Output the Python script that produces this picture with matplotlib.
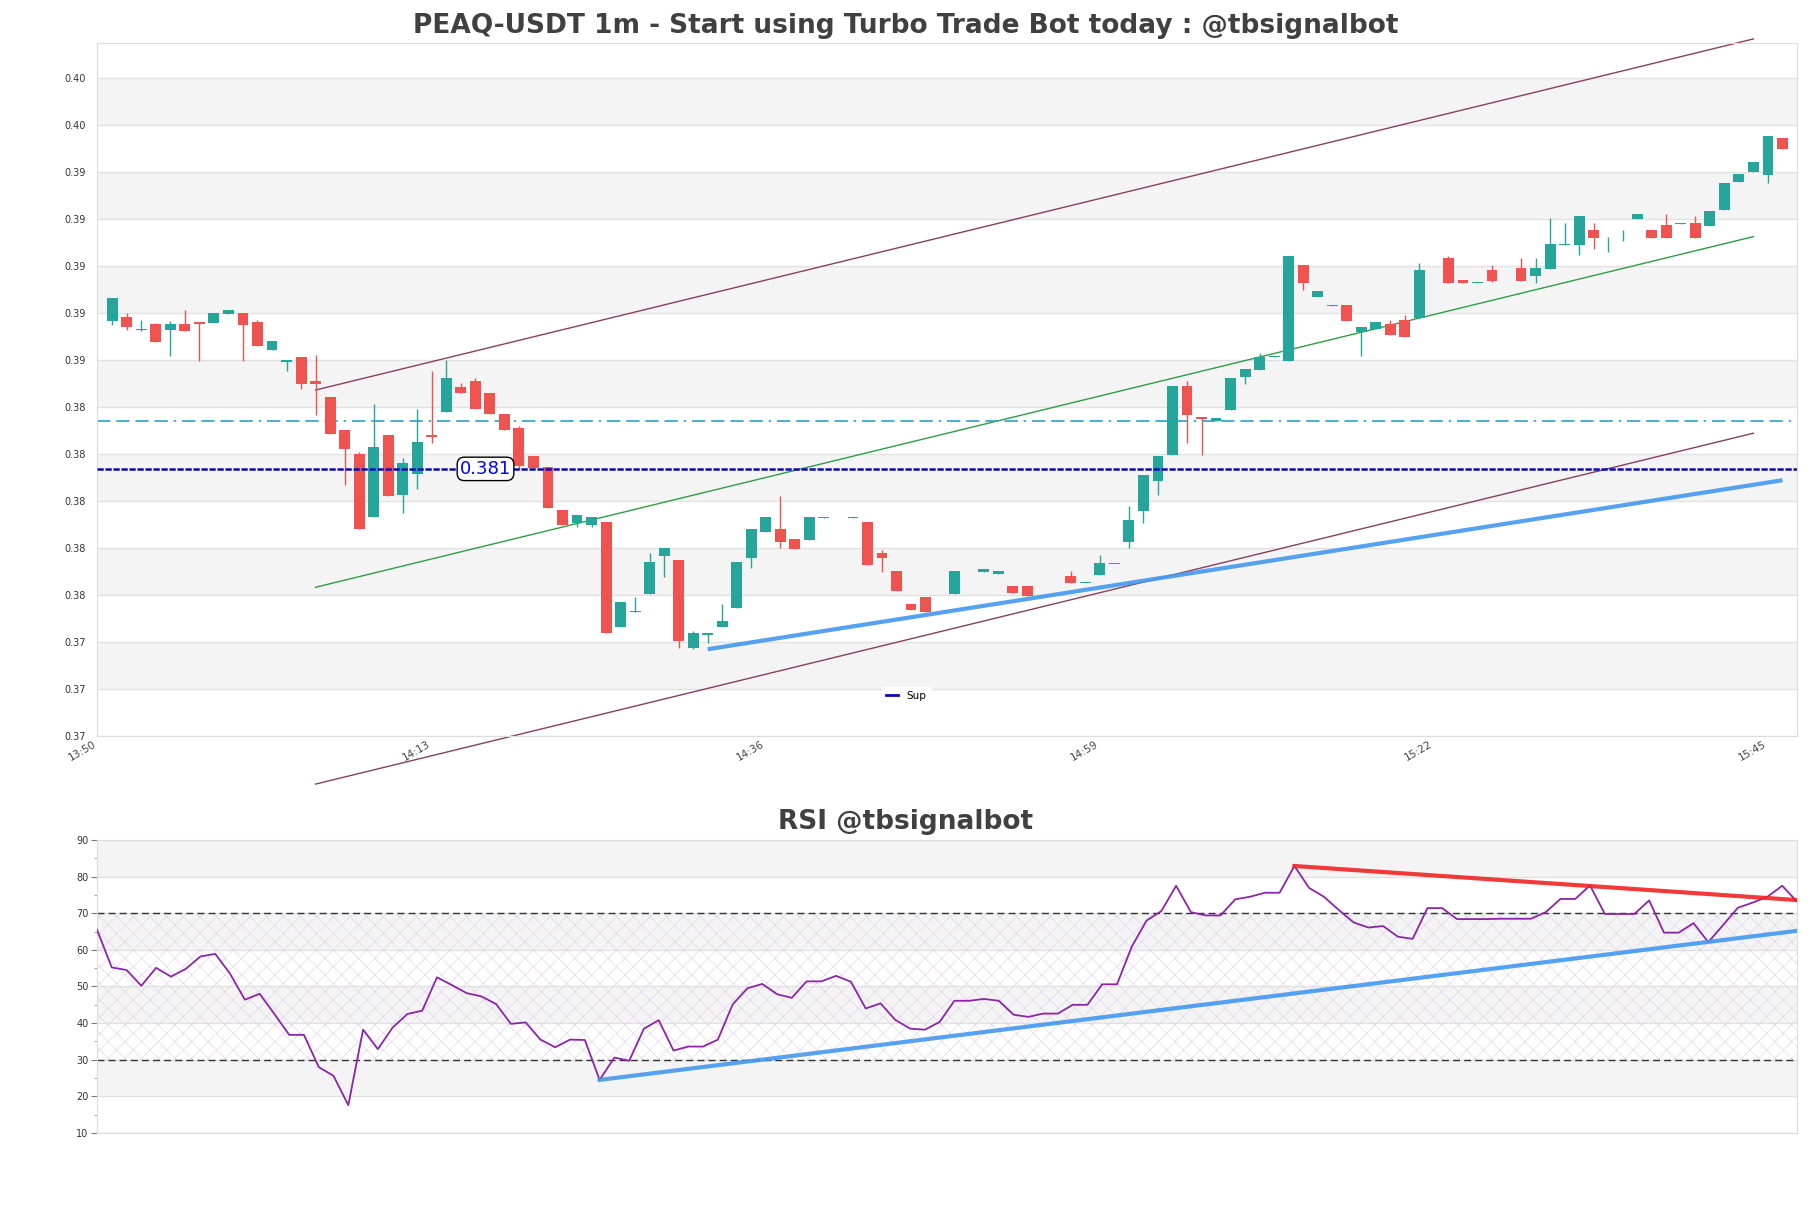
import numpy as np
import pandas as pd
import matplotlib
matplotlib.use("Agg")
import matplotlib.pyplot as plt
from matplotlib.lines import Line2D

# candles, one per minute from 13:51
start = pd.Timestamp("2024-01-01 13:50")
opens = [0.38794, 0.38811, 0.38751, 0.38779, 0.38751, 0.38779, 0.38788, 0.38785, 0.38827, 0.38830,
         0.38788, 0.38654, 0.38599, 0.38624, 0.38510, 0.38435, 0.38281, 0.38170, 0.37874, 0.38258,
         0.37980, 0.38078, 0.38259, 0.38368, 0.38481, 0.38512, 0.38454, 0.38358, 0.38291, 0.38160,
         0.38111, 0.37908, 0.37845, 0.37839, 0.37852, 0.37362, 0.37432, 0.37516, 0.37694, 0.37674,
         0.37263, 0.37321, 0.37362, 0.37451, 0.37685, 0.37806, 0.37819, 0.37772, 0.37769, 0.37872,
         0.37924, 0.37872, 0.37852, 0.37707, 0.37622, 0.37468, 0.37501, 0.37475, 0.37516, 0.37620,
         0.37619, 0.37607, 0.37552, 0.37552, 0.37517, 0.37517, 0.37599, 0.37566, 0.37603, 0.37654,
         0.37760, 0.37905, 0.38045, 0.38167, 0.38488, 0.38345, 0.38323, 0.38377, 0.38532, 0.38564,
         0.38624, 0.38607, 0.39054, 0.38906, 0.38863, 0.38866, 0.38741, 0.38753, 0.38777, 0.38797,
         0.38805, 0.39029, 0.39089, 0.38984, 0.38972, 0.39031, 0.38982, 0.39040, 0.39004, 0.39037,
         0.39150, 0.39149, 0.39218, 0.39183, 0.39183, 0.39271, 0.39218, 0.39241, 0.39248, 0.39249,
         0.39238, 0.39313, 0.39444, 0.39491, 0.39477, 0.39647]
highs = [0.38899, 0.38829, 0.38797, 0.38785, 0.38790, 0.38844, 0.38788, 0.38830, 0.38844, 0.38830,
         0.38797, 0.38699, 0.38610, 0.38624, 0.38634, 0.38435, 0.38281, 0.38181, 0.38404, 0.38258,
         0.38150, 0.38379, 0.38559, 0.38610, 0.38501, 0.38526, 0.38454, 0.38358, 0.38300, 0.38160,
         0.38111, 0.37908, 0.37884, 0.37873, 0.37852, 0.37477, 0.37502, 0.37705, 0.37730, 0.37674,
         0.37343, 0.37330, 0.37468, 0.37664, 0.37819, 0.37875, 0.37973, 0.37772, 0.37875, 0.37874,
         0.37926, 0.37874, 0.37852, 0.37721, 0.37622, 0.37468, 0.37501, 0.37477, 0.37622, 0.37622,
         0.37632, 0.37622, 0.37552, 0.37552, 0.37519, 0.37519, 0.37622, 0.37568, 0.37697, 0.37656,
         0.37926, 0.38072, 0.38160, 0.38488, 0.38510, 0.38345, 0.38337, 0.38525, 0.38568, 0.38644,
         0.38626, 0.39096, 0.39054, 0.38933, 0.38865, 0.38866, 0.38763, 0.38788, 0.38797, 0.38820,
         0.39062, 0.39031, 0.39096, 0.38984, 0.38974, 0.39054, 0.38984, 0.39089, 0.39089, 0.39274,
         0.39251, 0.39284, 0.39251, 0.39185, 0.39218, 0.39291, 0.39218, 0.39293, 0.39250, 0.39284,
         0.39307, 0.39438, 0.39480, 0.39536, 0.39658, 0.39647]
lows = [0.38774, 0.38751, 0.38743, 0.38696, 0.38629, 0.38743, 0.38607, 0.38785, 0.38827, 0.38607,
        0.38677, 0.38654, 0.38556, 0.38476, 0.38354, 0.38265, 0.38025, 0.37818, 0.37874, 0.37971,
        0.37893, 0.38005, 0.38223, 0.38368, 0.38453, 0.38378, 0.38356, 0.38280, 0.38100, 0.38098,
        0.37916, 0.37839, 0.37827, 0.37827, 0.37330, 0.37362, 0.37432, 0.37516, 0.37596, 0.37263,
        0.37256, 0.37287, 0.37362, 0.37451, 0.37638, 0.37806, 0.37728, 0.37727, 0.37769, 0.37872,
        0.37924, 0.37872, 0.37652, 0.37619, 0.37530, 0.37441, 0.37432, 0.37475, 0.37516, 0.37620,
        0.37619, 0.37607, 0.37518, 0.37507, 0.37517, 0.37517, 0.37564, 0.37566, 0.37603, 0.37654,
        0.37728, 0.37848, 0.37978, 0.38167, 0.38223, 0.38165, 0.38323, 0.38377, 0.38497, 0.38564,
        0.38624, 0.38607, 0.38937, 0.38906, 0.38863, 0.38794, 0.38628, 0.38753, 0.38728, 0.38719,
        0.38805, 0.39029, 0.38972, 0.38972, 0.38972, 0.38973, 0.38982, 0.38981, 0.38972, 0.39037,
        0.39150, 0.39103, 0.39128, 0.39117, 0.39168, 0.39271, 0.39182, 0.39182, 0.39248, 0.39182,
        0.39238, 0.39313, 0.39444, 0.39491, 0.39436, 0.39599]
closes = [0.38899, 0.38762, 0.38755, 0.38696, 0.38779, 0.38743, 0.38776, 0.38830, 0.38844, 0.38774,
          0.38677, 0.38699, 0.38610, 0.38498, 0.38499, 0.38265, 0.38191, 0.37818, 0.38203, 0.37971,
          0.38128, 0.38226, 0.38247, 0.38526, 0.38453, 0.38378, 0.38356, 0.38280, 0.38114, 0.38104,
          0.37916, 0.37839, 0.37884, 0.37873, 0.37330, 0.37477, 0.37435, 0.37664, 0.37730, 0.37296,
          0.37332, 0.37330, 0.37388, 0.37664, 0.37819, 0.37875, 0.37760, 0.37727, 0.37875, 0.37874,
          0.37926, 0.37874, 0.37652, 0.37685, 0.37530, 0.37441, 0.37432, 0.37477, 0.37622, 0.37622,
          0.37632, 0.37622, 0.37518, 0.37507, 0.37519, 0.37519, 0.37564, 0.37568, 0.37658, 0.37656,
          0.37861, 0.38072, 0.38160, 0.38488, 0.38354, 0.38334, 0.38337, 0.38525, 0.38568, 0.38625,
          0.38626, 0.39096, 0.38972, 0.38933, 0.38865, 0.38794, 0.38763, 0.38788, 0.38728, 0.38719,
          0.39031, 0.39031, 0.38972, 0.38972, 0.38974, 0.38981, 0.38984, 0.38981, 0.39040, 0.39153,
          0.39152, 0.39284, 0.39182, 0.39185, 0.39185, 0.39291, 0.39182, 0.39182, 0.39250, 0.39182,
          0.39307, 0.39438, 0.39480, 0.39536, 0.39658, 0.39599]

rsi = [65.5, 55.2, 54.5, 50.2, 55.1, 52.7, 54.8, 58.2, 58.9, 53.5,
       46.4, 48.0, 42.5, 36.8, 36.8, 28.0, 25.6, 17.6, 38.2, 32.9,
       38.8, 42.5, 43.4, 52.5, 50.4, 48.2, 47.3, 45.2, 39.8, 40.2,
       35.5, 33.4, 35.5, 35.4, 24.5, 30.6, 29.7, 38.5, 40.8, 32.5,
       33.6, 33.6, 35.5, 45.1, 49.5, 50.7, 47.9, 46.9, 51.4, 51.4,
       52.9, 51.3, 44.0, 45.4, 40.9, 38.5, 38.2, 40.3, 46.1, 46.1,
       46.6, 46.1, 42.3, 41.7, 42.6, 42.6, 45.0, 45.0, 50.6, 50.6,
       60.9, 68.0, 70.6, 77.5, 70.3, 69.4, 69.4, 73.8, 74.5, 75.6,
       75.6, 82.9, 76.9, 74.5, 70.9, 67.5, 66.1, 66.5, 63.6, 63.0,
       71.4, 71.4, 68.4, 68.4, 68.4, 68.5, 68.5, 68.5, 70.3, 73.9,
       73.9, 77.6, 69.8, 69.8, 69.8, 73.5, 64.7, 64.7, 67.3, 62.1,
       66.8, 71.5, 72.9, 74.5, 77.5, 73.2]

# trend lines (minute index, price)
channel_x = [15, 114]
channel_mid = [0.37546, 0.39187]
channel_up = [0.38469, 0.40112]
channel_low = [0.36625, 0.38267]
support_x = [42, 116]
support_y = [0.37256, 0.38047]
sup_level = 0.381
cyan_level = 0.38324

rsi_sup_x = [35, 116]
rsi_sup_y = [24.5, 65.2]
rsi_res_x = [82, 116]
rsi_res_y = [82.9, 73.6]

# y ticks of the price panel
price_ticks = 0.3685 + 0.0022 * np.arange(15)
tick_minutes = [0, 23, 46, 69, 92, 115]

o = np.array(opens)
h = np.array(highs)
l = np.array(lows)
c = np.array(closes)
x = np.arange(1, len(o) + 1)
up = c >= o
green = "#26a69a"
red = "#ef5350"
cols = np.where(up, green, red)

fig = plt.figure(figsize=(18.11, 12.08), dpi=100)
ax = fig.add_axes([0.05356, 0.39073, 0.93871, 0.57368])
ax2 = fig.add_axes([0.05356, 0.06209, 0.93871, 0.24255])

# ---- price panel
ax.set_ylim(0.3685, 0.40093)
ax.set_xlim(-0.05, 117)
for k in range(1, 14, 2):
    ax.axhspan(price_ticks[k], price_ticks[k + 1], color="#f4f4f4", zorder=0, lw=0)
ax.set_yticks(price_ticks)
ax.set_yticklabels(["%.2f" % t for t in price_ticks])
ax.yaxis.grid(True, color="#e2e2e2", lw=1, zorder=0.5)
ax.set_axisbelow(True)

ax.vlines(x, l, h, colors=cols, lw=1, zorder=3)
body = np.maximum(np.abs(c - o), 0.00004)
ax.bar(x, body, bottom=np.minimum(o, c), width=0.75, color=cols, zorder=3, lw=0)

chan_col = "#8a3f5e"
ax.plot(channel_x, channel_up, color=chan_col, lw=1, zorder=2, clip_on=False)
ax.plot(channel_x, channel_low, color=chan_col, lw=1, zorder=2, clip_on=False)
ax.plot(channel_x, channel_mid, color="#2e9e44", lw=1, zorder=2)
ax.axhline(cyan_level, color="#22a6cf", lw=1.2,
           linestyle=(0, (8, 3.5, 8, 3.5, 8, 3.5, 8, 3.5, 1.5, 3.5)), zorder=2)
ax.plot(support_x, support_y, color="#4398ef", lw=3, alpha=0.9, zorder=4,
        solid_capstyle="butt")
sup_col = "#0a0ab8"
ax.axhline(sup_level, color=sup_col, lw=1.8, linestyle=(0, (2.5, 0.7)), zorder=5)
ax.text(26.7, sup_level, "%.3f" % sup_level, color="#0000ff", fontsize=13,
        ha="center", va="center", zorder=6,
        bbox=dict(boxstyle="round,pad=0.15,rounding_size=0.4", fc="white", ec="black", lw=1))

times = [(start + pd.Timedelta(minutes=m)).strftime("%H:%M") for m in tick_minutes]
ax.set_xticks(tick_minutes)
ax.set_xticklabels(times, rotation=30, ha="right", fontsize=7.5, color="#444444")
ax.tick_params(axis="x", length=0, pad=2)
ax.tick_params(axis="y", length=0, pad=8, labelsize=7, labelcolor="#333333")
for s in ax.spines.values():
    s.set_color("#dddddd")

sup_handle = Line2D([], [], color=sup_col, lw=2)
ax.legend(handles=[sup_handle], labels=["Sup"], loc="center", bbox_to_anchor=(0.476, 0.058),
          fontsize=7.5, frameon=True, framealpha=1, edgecolor="white", handlelength=1.2)
fig.text(0.5, 0.9725, "PEAQ-USDT 1m - Start using Turbo Trade Bot today : @tbsignalbot",
         fontsize=19, fontweight="bold", color="#404040", ha="center", va="baseline")

# ---- RSI panel
xr = np.arange(1, len(rsi) + 1)
ax2.set_xlim(xr[0], xr[-1])
ax2.set_ylim(10, 90)
for lo in [20, 40, 60, 80]:
    ax2.axhspan(lo, lo + 10, color="#f4f4f4", zorder=0, lw=0)
plt.rcParams["hatch.linewidth"] = 0.4
ax2.fill_between([xr[0], xr[-1]], 30, 70, facecolor="none", edgecolor="#dccfe8",
                 hatch="xx", lw=0, zorder=0.6)
ax2.set_yticks(np.arange(10, 91, 10))
ax2.set_yticks(np.arange(15, 90, 10), minor=True)
ax2.yaxis.grid(True, color="#e2e2e2", lw=1, zorder=0.5)
ax2.set_axisbelow(True)
ax2.axhline(70, color="#333333", lw=1, linestyle=(0, (5, 3)), zorder=2)
ax2.axhline(30, color="#333333", lw=1, linestyle=(0, (5, 3)), zorder=2)
ax2.plot(xr, rsi, color="#8e24aa", lw=1.3, zorder=3)
ax2.plot(rsi_sup_x, rsi_sup_y, color="#4398ef", lw=3, alpha=0.9, zorder=4)
ax2.plot(rsi_res_x, rsi_res_y, color="#f02424", lw=3, alpha=0.9, zorder=4)
ax2.set_xticks([])
ax2.tick_params(axis="y", which="major", length=4, width=0.8, color="#777777",
                labelsize=7, labelcolor="#333333", pad=2)
ax2.tick_params(axis="y", which="minor", length=2, width=0.6, color="#999999")
for s in ax2.spines.values():
    s.set_color("#dddddd")
fig.text(0.5, 0.3138, "RSI @tbsignalbot", fontsize=19, fontweight="bold",
         color="#404040", ha="center", va="baseline")

fig.savefig("out.png", dpi=100)
